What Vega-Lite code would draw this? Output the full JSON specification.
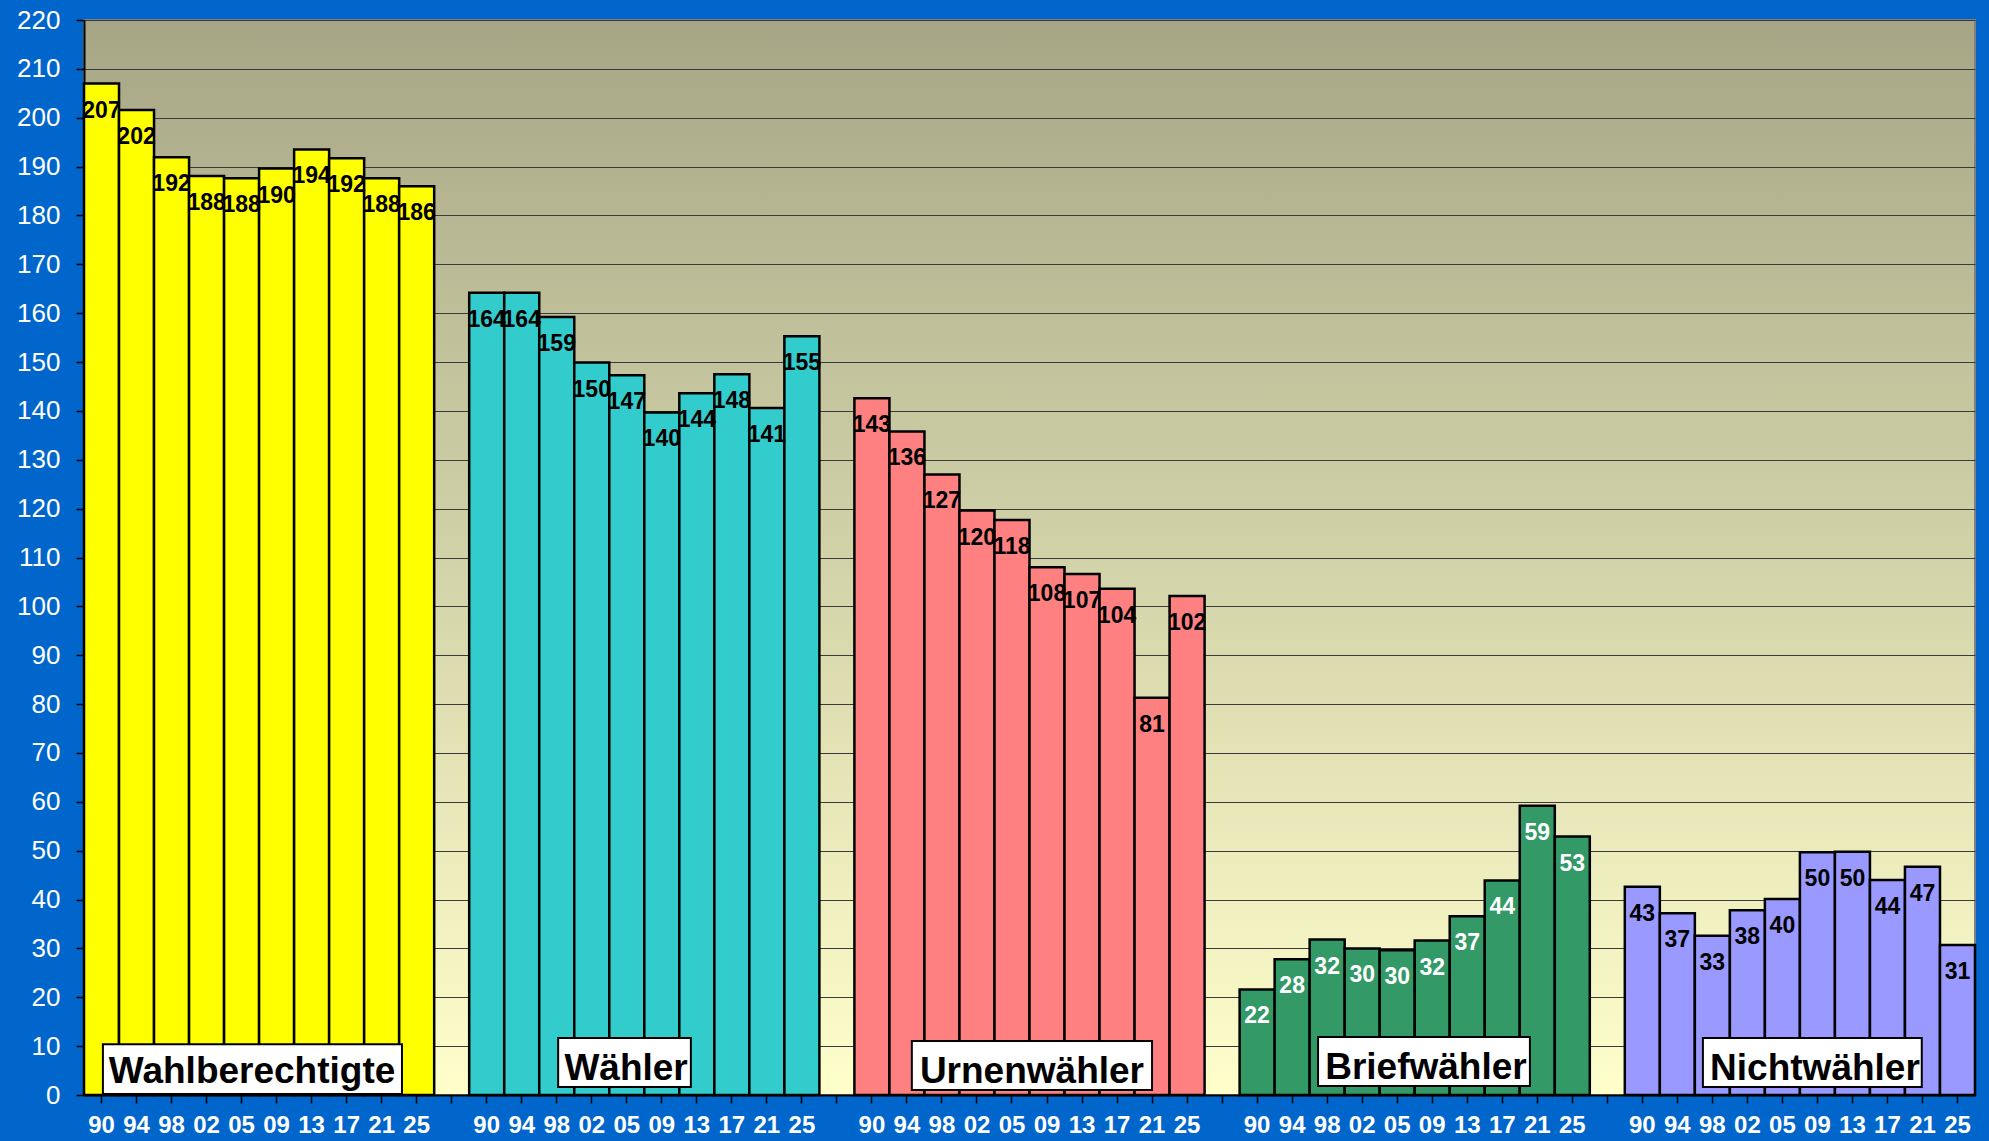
{
  "$schema": "https://vega.github.io/schema/vega-lite/v6.json",
  "width": 1891,
  "height": 1075,
  "autosize": "none",
  "padding": {"left": 84, "top": 20, "right": 14, "bottom": 46},
  "background": "#0066CC",
  "config": {
    "font": "Liberation Sans",
    "view": {
      "fill": {"gradient": "linear", "x1": 0, "y1": 0, "x2": 0, "y2": 1,
        "stops": [{"offset": 0, "color": "#A6A686"}, {"offset": 1, "color": "#FFFFCC"}]},
      "stroke": "#808080",
      "strokeWidth": 2
    }
  },
  "resolve": {"scale": {"x": "independent"}, "axis": {"x": "independent"}},
  "layer": [
    {
      "data": {"values": [
        {"group": "Wahlberechtigte", "year": "90", "value": 207.0},
        {"group": "Wahlberechtigte", "year": "94", "value": 201.6},
        {"group": "Wahlberechtigte", "year": "98", "value": 191.9},
        {"group": "Wahlberechtigte", "year": "02", "value": 188.1},
        {"group": "Wahlberechtigte", "year": "05", "value": 187.6},
        {"group": "Wahlberechtigte", "year": "09", "value": 189.6},
        {"group": "Wahlberechtigte", "year": "13", "value": 193.5},
        {"group": "Wahlberechtigte", "year": "17", "value": 191.7},
        {"group": "Wahlberechtigte", "year": "21", "value": 187.6},
        {"group": "Wahlberechtigte", "year": "25", "value": 186.0},
        {"group": "Wähler", "year": "90\u200b", "value": 164.2},
        {"group": "Wähler", "year": "94\u200b", "value": 164.2},
        {"group": "Wähler", "year": "98\u200b", "value": 159.2},
        {"group": "Wähler", "year": "02\u200b", "value": 149.9},
        {"group": "Wähler", "year": "05\u200b", "value": 147.3},
        {"group": "Wähler", "year": "09\u200b", "value": 139.7},
        {"group": "Wähler", "year": "13\u200b", "value": 143.6},
        {"group": "Wähler", "year": "17\u200b", "value": 147.5},
        {"group": "Wähler", "year": "21\u200b", "value": 140.6},
        {"group": "Wähler", "year": "25\u200b", "value": 155.3},
        {"group": "Urnenwähler", "year": "90\u200b\u200b", "value": 142.6},
        {"group": "Urnenwähler", "year": "94\u200b\u200b", "value": 135.8},
        {"group": "Urnenwähler", "year": "98\u200b\u200b", "value": 127.0},
        {"group": "Urnenwähler", "year": "02\u200b\u200b", "value": 119.6},
        {"group": "Urnenwähler", "year": "05\u200b\u200b", "value": 117.7},
        {"group": "Urnenwähler", "year": "09\u200b\u200b", "value": 108.0},
        {"group": "Urnenwähler", "year": "13\u200b\u200b", "value": 106.6},
        {"group": "Urnenwähler", "year": "17\u200b\u200b", "value": 103.6},
        {"group": "Urnenwähler", "year": "21\u200b\u200b", "value": 81.3},
        {"group": "Urnenwähler", "year": "25\u200b\u200b", "value": 102.1},
        {"group": "Briefwähler", "year": "90\u200b\u200b\u200b", "value": 21.6},
        {"group": "Briefwähler", "year": "94\u200b\u200b\u200b", "value": 27.8},
        {"group": "Briefwähler", "year": "98\u200b\u200b\u200b", "value": 31.8},
        {"group": "Briefwähler", "year": "02\u200b\u200b\u200b", "value": 30.0},
        {"group": "Briefwähler", "year": "05\u200b\u200b\u200b", "value": 29.6},
        {"group": "Briefwähler", "year": "09\u200b\u200b\u200b", "value": 31.6},
        {"group": "Briefwähler", "year": "13\u200b\u200b\u200b", "value": 36.6},
        {"group": "Briefwähler", "year": "17\u200b\u200b\u200b", "value": 43.9},
        {"group": "Briefwähler", "year": "21\u200b\u200b\u200b", "value": 59.2},
        {"group": "Briefwähler", "year": "25\u200b\u200b\u200b", "value": 52.9},
        {"group": "Nichtwähler", "year": "90\u200b\u200b\u200b\u200b", "value": 42.6},
        {"group": "Nichtwähler", "year": "94\u200b\u200b\u200b\u200b", "value": 37.2},
        {"group": "Nichtwähler", "year": "98\u200b\u200b\u200b\u200b", "value": 32.6},
        {"group": "Nichtwähler", "year": "02\u200b\u200b\u200b\u200b", "value": 37.8},
        {"group": "Nichtwähler", "year": "05\u200b\u200b\u200b\u200b", "value": 40.1},
        {"group": "Nichtwähler", "year": "09\u200b\u200b\u200b\u200b", "value": 49.7},
        {"group": "Nichtwähler", "year": "13\u200b\u200b\u200b\u200b", "value": 49.8},
        {"group": "Nichtwähler", "year": "17\u200b\u200b\u200b\u200b", "value": 44.0},
        {"group": "Nichtwähler", "year": "21\u200b\u200b\u200b\u200b", "value": 46.7},
        {"group": "Nichtwähler", "year": "25\u200b\u200b\u200b\u200b", "value": 30.7}
      ]},
      "layer": [
        {
          "mark": {"type": "bar", "stroke": "black", "strokeWidth": 2.5},
          "encoding": {
            "x": {
              "field": "year", "type": "nominal", "sort": null,
              "scale": {
                "domain": ["90","94","98","02","05","09","13","17","21","25"," ",
                           "90\u200b","94\u200b","98\u200b","02\u200b","05\u200b","09\u200b","13\u200b","17\u200b","21\u200b","25\u200b","  ",
                           "90\u200b\u200b","94\u200b\u200b","98\u200b\u200b","02\u200b\u200b","05\u200b\u200b","09\u200b\u200b","13\u200b\u200b","17\u200b\u200b","21\u200b\u200b","25\u200b\u200b","   ",
                           "90\u200b\u200b\u200b","94\u200b\u200b\u200b","98\u200b\u200b\u200b","02\u200b\u200b\u200b","05\u200b\u200b\u200b","09\u200b\u200b\u200b","13\u200b\u200b\u200b","17\u200b\u200b\u200b","21\u200b\u200b\u200b","25\u200b\u200b\u200b","    ",
                           "90\u200b\u200b\u200b\u200b","94\u200b\u200b\u200b\u200b","98\u200b\u200b\u200b\u200b","02\u200b\u200b\u200b\u200b","05\u200b\u200b\u200b\u200b","09\u200b\u200b\u200b\u200b","13\u200b\u200b\u200b\u200b","17\u200b\u200b\u200b\u200b","21\u200b\u200b\u200b\u200b","25\u200b\u200b\u200b\u200b"],
                "paddingInner": 0, "paddingOuter": 0
              },
              "axis": {
                "title": null,
                "labelAngle": 0,
                "labelColor": "white",
                "labelFont": "Liberation Sans",
                "labelFontWeight": "bold",
                "labelFontSize": 24,
                "labelPadding": 10,
                "tickColor": "black",
                "tickSize": 8,
                "tickWidth": 1.5,
                "domainColor": "black",
                "domainWidth": 2,
                "grid": false
              }
            },
            "y": {
              "field": "value", "type": "quantitative",
              "scale": {"domain": [0, 220], "nice": false},
              "axis": {
                "title": null,
                "tickCount": 22,
                "labelColor": "white",
                "labelFont": "Liberation Sans",
                "labelFontSize": 26,
                "labelPadding": 16,
                "tickColor": "black",
                "tickSize": 8,
                "tickWidth": 1.5,
                "domainColor": "black",
                "domainWidth": 2,
                "grid": true,
                "gridColor": "#3a3a3a",
                "gridWidth": 1
              }
            },
            "fill": {
              "field": "group", "type": "nominal", "legend": null,
              "scale": {
                "domain": ["Wahlberechtigte", "Wähler", "Urnenwähler", "Briefwähler", "Nichtwähler"],
                "range": ["#FFFF00", "#33CCCC", "#FF8080", "#339966", "#9999FF"]
              }
            }
          }
        },
        {
          "mark": {"type": "text", "font": "Liberation Sans", "fontWeight": "bold", "fontSize": 23, "baseline": "alphabetic", "align": "center", "dy": 34},
          "encoding": {
            "x": {"field": "year", "type": "nominal", "sort": null},
            "y": {"field": "value", "type": "quantitative"},
            "text": {"field": "value", "type": "quantitative", "format": ".0f"},
            "color": {"condition": {"test": "datum.group === 'Briefwähler'", "value": "white"}, "value": "black"}
          }
        }
      ]
    },
    {
      "layer": [
        {
          "data": {"values": [{"group": "Wahlberechtigte"}]},
          "layer": [
            {"mark": {"type": "rect", "fill": "white", "stroke": "black", "strokeWidth": 2},
             "encoding": {"x": {"datum": 0.54, "type": "quantitative", "scale": {"domain": [0, 54], "nice": false, "zero": false}, "axis": null}, "x2": {"datum": 9.08},
                          "y": {"datum": 10.4, "type": "quantitative"}, "y2": {"datum": 0.2}}},
            {"mark": {"type": "text", "font": "Liberation Sans", "fontWeight": "bold", "fontSize": 37, "align": "center", "baseline": "alphabetic", "color": "black"},
             "encoding": {"x": {"datum": 4.80, "type": "quantitative"}, "y": {"datum": 2.4, "type": "quantitative"}, "text": {"field": "group", "type": "nominal"}}}
          ]
        },
        {
          "data": {"values": [{"group": "Wähler"}]},
          "layer": [
            {"mark": {"type": "rect", "fill": "white", "stroke": "black", "strokeWidth": 2},
             "encoding": {"x": {"datum": 13.54, "type": "quantitative"}, "x2": {"datum": 17.33},
                          "y": {"datum": 11.67, "type": "quantitative"}, "y2": {"datum": 1.64}}},
            {"mark": {"type": "text", "font": "Liberation Sans", "fontWeight": "bold", "fontSize": 37, "align": "center", "baseline": "alphabetic", "color": "black"},
             "encoding": {"x": {"datum": 15.48, "type": "quantitative"}, "y": {"datum": 3.07, "type": "quantitative"}, "text": {"field": "group", "type": "nominal"}}}
          ]
        },
        {
          "data": {"values": [{"group": "Urnenwähler"}]},
          "layer": [
            {"mark": {"type": "rect", "fill": "white", "stroke": "black", "strokeWidth": 2},
             "encoding": {"x": {"datum": 23.64, "type": "quantitative"}, "x2": {"datum": 30.50},
                          "y": {"datum": 11.05, "type": "quantitative"}, "y2": {"datum": 1.0}}},
            {"mark": {"type": "text", "font": "Liberation Sans", "fontWeight": "bold", "fontSize": 37, "align": "center", "baseline": "alphabetic", "color": "black"},
             "encoding": {"x": {"datum": 27.07, "type": "quantitative"}, "y": {"datum": 2.46, "type": "quantitative"}, "text": {"field": "group", "type": "nominal"}}}
          ]
        },
        {
          "data": {"values": [{"group": "Briefwähler"}]},
          "layer": [
            {"mark": {"type": "rect", "fill": "white", "stroke": "black", "strokeWidth": 2},
             "encoding": {"x": {"datum": 35.24, "type": "quantitative"}, "x2": {"datum": 41.29},
                          "y": {"datum": 11.87, "type": "quantitative"}, "y2": {"datum": 1.84}}},
            {"mark": {"type": "text", "font": "Liberation Sans", "fontWeight": "bold", "fontSize": 37, "align": "center", "baseline": "alphabetic", "color": "black"},
             "encoding": {"x": {"datum": 38.32, "type": "quantitative"}, "y": {"datum": 3.27, "type": "quantitative"}, "text": {"field": "group", "type": "nominal"}}}
          ]
        },
        {
          "data": {"values": [{"group": "Nichtwähler"}]},
          "layer": [
            {"mark": {"type": "rect", "fill": "white", "stroke": "black", "strokeWidth": 2},
             "encoding": {"x": {"datum": 46.23, "type": "quantitative"}, "x2": {"datum": 52.48},
                          "y": {"datum": 11.67, "type": "quantitative"}, "y2": {"datum": 1.64}}},
            {"mark": {"type": "text", "font": "Liberation Sans", "fontWeight": "bold", "fontSize": 37, "align": "center", "baseline": "alphabetic", "color": "black"},
             "encoding": {"x": {"datum": 49.43, "type": "quantitative"}, "y": {"datum": 3.07, "type": "quantitative"}, "text": {"field": "group", "type": "nominal"}}}
          ]
        }
      ]
    }
  ]
}
